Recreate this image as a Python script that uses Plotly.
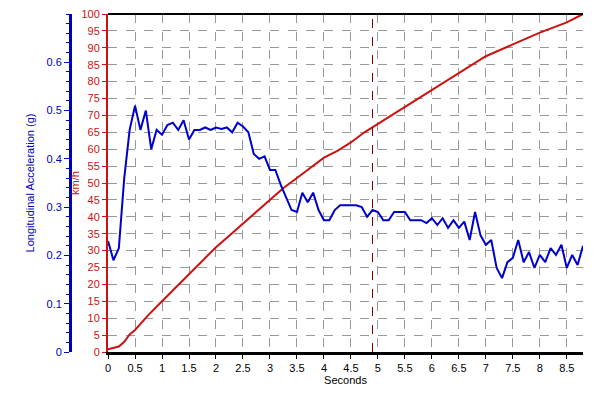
import plotly.graph_objects as go

# aceleracion longitudinal (g)
t_acc = [0, 0.1, 0.2, 0.3, 0.4, 0.5, 0.6, 0.7, 0.8, 0.9, 1.0, 1.1, 1.2, 1.3, 1.4, 1.5, 1.6, 1.7, 1.8, 1.9,
         2.0, 2.1, 2.2, 2.3, 2.4, 2.5, 2.6, 2.7, 2.8, 2.9, 3.0, 3.1, 3.2, 3.3, 3.4, 3.5, 3.6, 3.7, 3.8, 3.9,
         4.0, 4.1, 4.2, 4.3, 4.4, 4.5, 4.6, 4.7, 4.8, 4.9, 5.0, 5.1, 5.2, 5.3, 5.4, 5.5, 5.6, 5.7, 5.8, 5.9,
         6.0, 6.1, 6.2, 6.3, 6.4, 6.5, 6.6, 6.7, 6.8, 6.9, 7.0, 7.1, 7.2, 7.3, 7.4, 7.5, 7.6, 7.7, 7.8, 7.9,
         8.0, 8.1, 8.2, 8.3, 8.4, 8.5, 8.6, 8.7, 8.8]
acc = [0.23, 0.19, 0.215, 0.36, 0.46, 0.51, 0.46, 0.50, 0.42, 0.46, 0.45, 0.47, 0.475, 0.46, 0.48, 0.44, 0.46, 0.46, 0.465, 0.46,
       0.465, 0.462, 0.465, 0.455, 0.475, 0.467, 0.455, 0.41, 0.40, 0.405, 0.377, 0.377, 0.346, 0.32, 0.294, 0.29, 0.33, 0.31, 0.33, 0.294,
       0.273, 0.273, 0.294, 0.304, 0.304, 0.304, 0.304, 0.30, 0.28, 0.294, 0.29, 0.273, 0.273, 0.29, 0.29, 0.29, 0.273, 0.273, 0.273, 0.267,
       0.277, 0.263, 0.277, 0.257, 0.273, 0.257, 0.27, 0.232, 0.29, 0.242, 0.222, 0.232, 0.174, 0.153, 0.186, 0.195, 0.232, 0.186, 0.207, 0.174,
       0.201, 0.186, 0.215, 0.201, 0.222, 0.174, 0.201, 0.180, 0.22]

# velocidad (km/h)
t_vel = [0, 0.1, 0.2, 0.3, 0.4, 0.5, 0.75, 1.0, 1.25, 1.5, 1.75, 2.0, 2.25, 2.5, 2.75, 3.0, 3.25, 3.5, 3.75, 4.0,
         4.25, 4.5, 4.75, 5.0, 5.5, 6.0, 6.5, 7.0, 7.5, 8.0, 8.5, 8.8]
vel = [0.8, 1.2, 1.6, 3, 5.2, 6.5, 11, 15, 19, 23, 27, 31, 34.5, 38, 41.5, 45, 48.5, 51.5, 54.5, 57.5,
       59.5, 62, 65, 67.5, 72.5, 77.5, 82.5, 87.5, 91, 94.5, 97.5, 100]

x_ticks = [i * 0.5 for i in range(18)]
x_labels = ['%g' % v for v in x_ticks]
g_ticks = [0, 0.1, 0.2, 0.3, 0.4, 0.5, 0.6]
marker_t = 4.9

fnt = dict(family='Liberation Sans, Arial', size=11, color='black')

fig = go.Figure()
fig.add_trace(go.Scatter(x=t_vel, y=vel, mode='lines', line=dict(color='#cc1111', width=2), yaxis='y'))
fig.add_trace(go.Scatter(x=t_acc, y=acc, mode='lines', line=dict(color='#0000cc', width=2), yaxis='y2'))
fig.add_vline(x=marker_t, line=dict(color='#800000', width=1, dash='dash'))

fig.update_layout(
    width=600, height=400, showlegend=False,
    paper_bgcolor='white', plot_bgcolor='white',
    margin=dict(l=0, r=25, t=6, b=56, autoexpand=False),
    font=fnt,
    xaxis=dict(domain=[0.174, 1], range=[0, 8.8], tickvals=x_ticks, ticktext=x_labels, automargin=False,
               showgrid=True, gridcolor='#999', griddash='dash', gridwidth=1,
               showline=True, linecolor='black', linewidth=3, ticks='outside', ticklen=4,
               tickcolor='black', title=dict(text='Seconds', font=fnt, standoff=2),
               tickfont=dict(color='black', size=11), zeroline=False),
    yaxis=dict(range=[0, 100], dtick=5, showgrid=True, gridcolor='#999', griddash='dash', automargin=False,
               showline=True, linecolor='#cc1111', linewidth=2, ticks='outside', ticklen=4,
               tickcolor='#cc1111', tickfont=dict(color='#cc1111', size=11), zeroline=False,
               ticklabeloverflow='allow',
               title=dict(text='km/h', font=dict(color='#cc1111', size=11), standoff=0)),
    yaxis2=dict(overlaying='y', anchor='free', position=0.108, side='left', range=[0, 0.7], automargin=False,
                tickvals=g_ticks, showgrid=False, showline=True, linecolor='#0000bb', linewidth=3,
                ticks='outside', ticklen=5, tickcolor='#0000bb', tickfont=dict(color='#0000bb', size=11),
                minor=dict(dtick=0.02, ticks='outside', ticklen=3, tickcolor='#0000bb'),
                zeroline=False,
                title=dict(text='Longitudinal Acceleration (g)', font=dict(color='#0000bb', size=11), standoff=8)),
)
fig.add_shape(type='line', xref='x domain', yref='paper', x0=0, x1=1, y0=1, y1=1,
              line=dict(color='black', width=2))

fig.write_html('out.html')
